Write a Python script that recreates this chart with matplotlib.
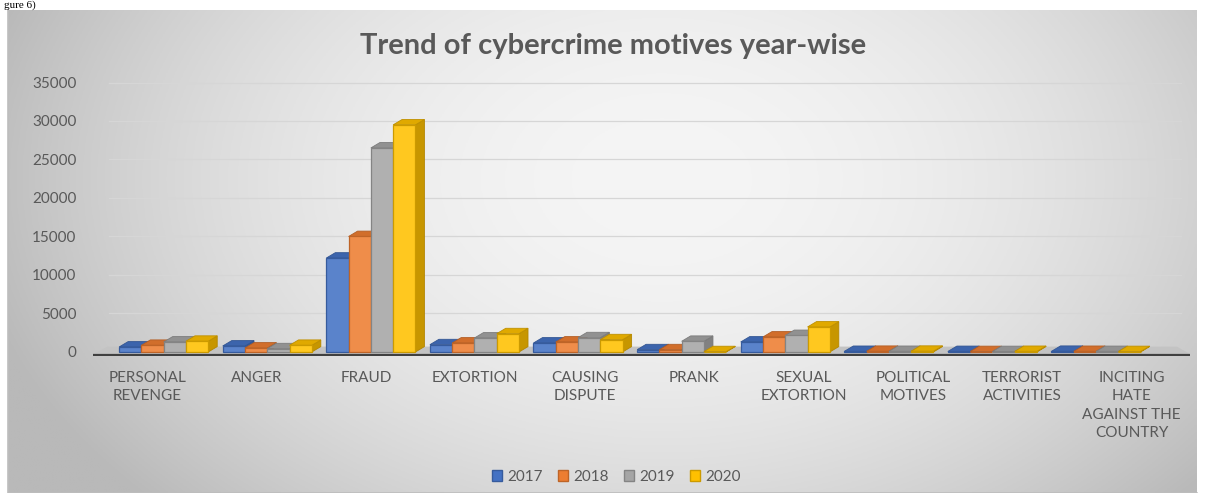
import numpy as np
import matplotlib.pyplot as plt
from matplotlib.colors import to_rgb
from matplotlib.patches import Polygon, Patch

plt.rcParams['font.family'] = ['Lato', 'DejaVu Sans']

categories = ['PERSONAL\nREVENGE', 'ANGER', 'FRAUD', 'EXTORTION', 'CAUSING\nDISPUTE',
              'PRANK', 'SEXUAL\nEXTORTION', 'POLITICAL\nMOTIVES', 'TERRORIST\nACTIVITIES',
              'INCITING\nHATE\nAGAINST THE\nCOUNTRY']
years = ['2017', '2018', '2019', '2020']
cases_2017 = [650, 780, 12200, 950, 1170, 300, 1300, 80, 70, 90]
cases_2018 = [870, 520, 15000, 1170, 1300, 300, 1950, 90, 60, 80]
cases_2019 = [1300, 430, 26500, 1820, 1860, 1390, 2150, 80, 60, 70]
cases_2020 = [1400, 870, 29500, 2380, 1600, 50, 3250, 100, 80, 60]
series = [cases_2017, cases_2018, cases_2019, cases_2020]
colors = ['#4472C4', '#ED7D31', '#A5A5A5', '#FFC000']


def shade(c, f):
    r, g, b = to_rgb(c)
    if f < 1:
        return (r * f, g * f, b * f)
    return (r + (1 - r) * (f - 1), g + (1 - g) * (f - 1), b + (1 - b) * (f - 1))


fig = plt.figure(figsize=(12.05, 4.93), dpi=100)
fig.patch.set_facecolor('white')

# gradient background of the chart frame
bg = fig.add_axes([8 / 1205, 0, 1189 / 1205, 483 / 493])
xx, yy = np.meshgrid(np.linspace(0, 1, 400), np.linspace(0, 1, 200))
r2 = ((xx - 0.55) / 0.6) ** 2 + ((yy - 0.35) / 1.0) ** 2
g = np.clip(245 - 62 * r2, 185, 245) / 255
bg.imshow(np.dstack([g, g, g]), aspect='auto', extent=[0, 1, 1, 0])
bg.set_xlim(0, 1)
bg.set_ylim(1, 0)
bg.axis('off')
bg.plot([0, 0, 1], [1, 0, 0], color='#bdbdbd', lw=1.2, transform=bg.transAxes, clip_on=False)

fig.text(0.003, 0.999, 'gure 6)', fontsize=8, family='Liberation Serif', va='top', ha='left')

ax = fig.add_axes([93 / 1205, (493 - 356) / 493, 1097 / 1205, 274 / 493])
ax.patch.set_alpha(0)
ax.set_xlim(-0.502, 10.087)
ax.set_ylim(-520, 35065)

x = np.arange(len(categories))
w = 0.215
dx, dy = 0.087, 700

# floor
floor = Polygon([(-0.502, -260), (10.087, -260), (9.96, dy), (-0.36, dy)],
                closed=True, facecolor='#c3c3c3', edgecolor='none', zorder=1)
ax.add_patch(floor)
ax.plot([-0.502, 10.087], [-330, -330], color='#404040', lw=1.6, zorder=2, solid_capstyle='butt')

for yv in range(5000, 35001, 5000):
    ax.plot([-0.35, 10.0], [yv, yv], color='#d6d6d6', lw=0.9, zorder=0)

for j, (vals, c) in enumerate(zip(series, colors)):
    for i, v in enumerate(vals):
        x0 = x[i] - 0.25 + j * w
        z = 3 + j * 3
        side = Polygon([(x0 + w, 0), (x0 + w + dx, dy), (x0 + w + dx, v + dy), (x0 + w, v)],
                       closed=True, facecolor=shade(c, 0.78), edgecolor=shade(c, 0.7), lw=0.6, zorder=z)
        top = Polygon([(x0, v), (x0 + w, v), (x0 + w + dx, v + dy), (x0 + dx, v + dy)],
                      closed=True, facecolor=shade(c, 0.88), edgecolor=shade(c, 0.75), lw=0.6, zorder=z)
        ax.add_patch(side)
        ax.add_patch(top)
        ax.bar(x0, v, w, align='edge', color=shade(c, 1.12), edgecolor=shade(c, 0.8),
               lw=0.9, zorder=z + 1)

# category labels sit on the front edge, spread wider than the bars (perspective)
ax.set_xticks(x * 1.056 + 0.02)
ax.set_xticklabels(categories, fontsize=11, color='#595959', linespacing=1.38, va='top')
ax.set_yticks(range(0, 35001, 5000))
ax.set_yticklabels([str(v) for v in range(0, 35001, 5000)], fontsize=11, color='#595959')
ax.tick_params(axis='both', length=0)
ax.tick_params(axis='x', pad=11)
ax.tick_params(axis='y', pad=12)
for s in ax.spines.values():
    s.set_visible(False)

fig.text(613 / 1205, 1 - 46 / 493, 'Trend of cybercrime motives year-wise', ha='center', va='center',
         fontsize=21, fontweight='bold', color='#595959')

handles = [Patch(facecolor=c, edgecolor=shade(c, 0.8), label=y) for y, c in zip(years, colors)]
fig.legend(handles=handles, loc='center', bbox_to_anchor=(616 / 1205, 1 - 477 / 493), ncol=4,
           frameon=False, fontsize=11, handlelength=0.7, handleheight=0.7,
           handletextpad=0.3, columnspacing=1.0, labelcolor='#595959')

fig.savefig('out.png', dpi=100)
